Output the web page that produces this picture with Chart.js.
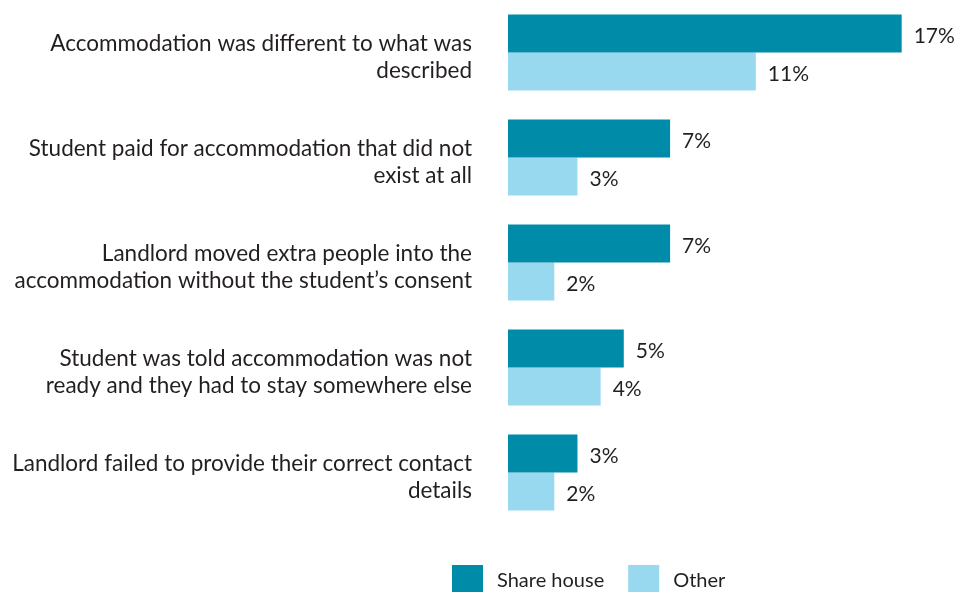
<!DOCTYPE html>
<html>
<head>
<meta charset="utf-8">
<script src="https://cdn.jsdelivr.net/npm/chart.js@4"></script>
<style>
  body { margin: 0; background: #fff; }
  #wrap { width: 956px; height: 592px; position: relative; }
</style>
</head>
<body>
<div id="wrap"><canvas id="chart"></canvas></div>
<script>
// categories (already split into lines like the original)
const categories = [
  ["Accommodation was different to what was", "described"],
  ["Student paid for accommodation that did not", "exist at all"],
  ["Landlord moved extra people into the", "accommodation without the student\u2019s consent"],
  ["Student was told accommodation was not", "ready and they had to stay somewhere else"],
  ["Landlord failed to provide their correct contact", "details"]
];
const shareHouse = [17, 7, 7, 5, 3];
const other = [10.7, 3, 2, 4, 2];

const textColor = "#231f20";
const fontFamily = "Lato, 'Noto Sans', sans-serif";

// draws the "17%" labels right of each bar
const valueLabels = {
  id: "valueLabels",
  afterDatasetsDraw(chart) {
    const ctx = chart.ctx;
    ctx.save();
    ctx.font = "21px " + fontFamily;
    ctx.fillStyle = textColor;
    ctx.textAlign = "left";
    ctx.textBaseline = "middle";
    chart.data.datasets.forEach((ds, i) => {
      chart.getDatasetMeta(i).data.forEach((bar, j) => {
        ctx.fillText(Math.round(ds.data[j]) + "%", bar.x + 12, bar.y + 3);
      });
    });
    ctx.restore();
  }
};

// legend below the bars, placed like the original (not centred on the canvas)
const bottomLegend = {
  id: "bottomLegend",
  afterDraw(chart) {
    const ctx = chart.ctx;
    ctx.save();
    ctx.font = "20px " + fontFamily;
    ctx.textBaseline = "middle";
    ctx.textAlign = "left";
    let x = 452;
    const y = 565;
    chart.data.datasets.forEach(ds => {
      ctx.fillStyle = ds.backgroundColor;
      ctx.fillRect(x, y, 31, 27);
      ctx.fillStyle = textColor;
      ctx.fillText(ds.label, x + 45, y + 16);
      x += 45 + ctx.measureText(ds.label).width + 24;
    });
    ctx.restore();
  }
};

new Chart(document.getElementById("chart"), {
  type: "bar",
  data: {
    labels: categories,
    datasets: [
      { label: "Share house", data: shareHouse, backgroundColor: "#008ca8" },
      { label: "Other", data: other, backgroundColor: "#98d9ef" }
    ]
  },
  options: {
    indexAxis: "y",
    responsive: true,
    maintainAspectRatio: false,
    animation: false,
    layout: { padding: { left: 0, right: 8, top: 0, bottom: 67 } },
    datasets: { bar: { barPercentage: 1, categoryPercentage: 0.724 } },
    scales: {
      x: {
        display: false,
        min: 0,
        max: 19
      },
      y: {
        grid: { display: false, drawTicks: false },
        border: { display: false },
        afterFit(scale) {
          scale.width = 508;
          scale.paddingTop = 0;
          scale.paddingBottom = 0;
        },
        ticks: {
          padding: 36,
          labelOffset: 5,
          color: textColor,
          font: { family: fontFamily, size: 22.5, lineHeight: 1.2 }
        }
      }
    },
    plugins: {
      tooltip: { enabled: false },
      legend: { display: false }
    }
  },
  plugins: [valueLabels, bottomLegend]
});
</script>
</body>
</html>
